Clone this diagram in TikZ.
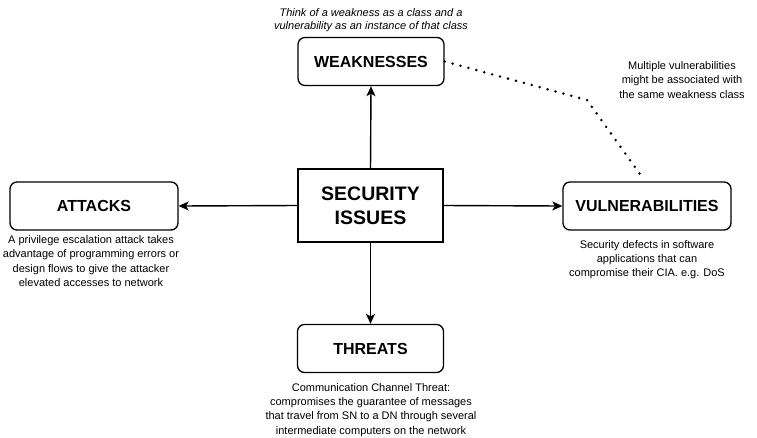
\documentclass[tikz,border=0pt]{standalone}
\usepackage{fontspec}
\setmainfont{Liberation Sans}
\usetikzlibrary{arrows.meta}
\begin{document}
\begin{tikzpicture}[x=1pt,y=-1pt,
  box/.style={draw,line width=1.3pt,rounded corners=7pt,minimum width=146pt,minimum height=48pt,inner sep=0pt,font=\bfseries\fontsize{16}{19}\selectfont},
  mainbox/.style={draw,line width=1.3pt,minimum width=145pt,minimum height=73pt,inner sep=0pt,align=center,font=\bfseries\fontsize{19.5}{24}\selectfont},
  note/.style={align=center,inner sep=0pt,font=\fontsize{11}{14.2}\selectfont},
  arr/.style={line width=1.4pt,-{Stealth[length=10pt,width=9pt,inset=2.5pt]}},
  dotline/.style={line width=2.8pt,line cap=round,dash pattern=on 0pt off 8.2pt}]
\useasboundingbox (0,0) rectangle (757,437);
\node[mainbox] (sec) at (370.5,205.5) {SECURITY\\ISSUES};
\node[box] (weak) at (371,61.5) {WEAKNESSES};
\node[box,minimum width=168pt] (att) at (94,206) {ATTACKS};
\node[box,minimum width=168pt] (vul) at (647,206) {VULNERABILITIES};
\node[box] (thr) at (370.5,348.5) {THREATS};
\draw[arr] (sec.north) -- (weak.south);
\draw[arr] (sec.west) -- (att.east);
\draw[arr] (sec.east) -- (vul.east -| vul.west);
\draw[arr] (sec.south) -- (thr.north);
\coordinate (bend) at (587,100);
\coordinate (vend) at (642,177);
\draw[dotline] (weak.east) -- (bend) -- (vend);
\node[note,font=\itshape\fontsize{11}{13}\selectfont] (wn) at (371,20.5) {Think of a weakness as a class and a\\vulnerability as an instance of that class};
\node[note] (mn) at (682,80) {Multiple vulnerabilities\\might be associated with\\the same weakness class};
\node[note] (an) at (91,261) {A privilege escalation attack takes\\advantage of programming errors or\\design flows to give the attacker\\elevated accesses to network};
\node[note] (vn) at (647,259.5) {Security defects in software\\applications that can\\compromise their CIA. e.g. DoS};
\node[note] (tn) at (371,410) {Communication Channel Threat:\\compromises the guarantee of messages\\that travel from SN to a DN through several\\intermediate computers on the network};
\end{tikzpicture}
\end{document}
